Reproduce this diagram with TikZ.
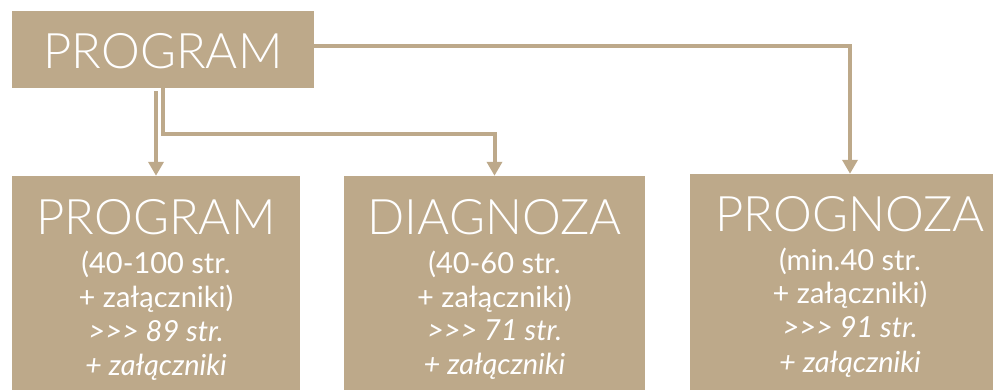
\documentclass[tikz,border=0pt]{standalone}
\usepackage{fontspec}
\setmainfont{Lato Light}[ItalicFont={Lato Light Italic}]
\newfontfamily\latoreg{Lato}
\usetikzlibrary{arrows.meta}
\definecolor{tanbox}{RGB}{189,169,138}
\begin{document}
\begin{tikzpicture}[x=1pt,y=-1pt,
  box/.style={fill=tanbox,draw=none,rectangle,inner sep=0pt},
  conn/.style={draw=tanbox,line width=4pt,line join=miter},
  arr/.style={conn,-{Triangle[width=15pt,length=14pt]}},
  title/.style={text=white,anchor=base,font=\fontsize{49}{60}\selectfont,inner sep=0pt},
  info/.style={text=white,anchor=base,font=\latoreg\fontsize{29}{34}\selectfont,inner sep=0pt},
  infoit/.style={text=white,anchor=base,font=\latoreg\fontsize{29}{34}\selectfont\itshape,inner sep=0pt}]
\useasboundingbox (0,0) rectangle (993,390);
\clip (0,0) rectangle (993,390);
% boxes
\node[box,minimum width=302pt,minimum height=77pt] (top) at (163,49.5) {};
\node[box,minimum width=288pt,minimum height=214pt] (b1) at (156,283) {};
\node[box,minimum width=301pt,minimum height=214pt] (b2) at (494.5,283) {};
\node[box,minimum width=320pt,minimum height=216pt] (b3) at (850,282) {};
% connectors
\draw[arr,shorten <=3pt] (b1.north |- top.south) -- (b1.north);
\draw[arr] (top.south) -- ++(0,46) coordinate (bend) -| (b2.north);
\draw[arr] ([yshift=3.5pt]top.east) -| (b3.north);
% texts
\node[title] (ttop) at (163,69) {PROGRAM};
\node[title] (t1) at (156,234) {PROGRAM};
\node[info] (t1a) at (156,273) {(40-100 str.};
\node[info] (t1b) at (156,307) {+ załączniki)};
\node[infoit] (t1c) at (156,341) {>{}>{}> 89 str.};
\node[infoit] (t1d) at (156,375) {+ załączniki};
\node[title] (t2) at (494.5,234) {DIAGNOZA};
\node[info] (t2a) at (494.5,273) {(40-60 str.};
\node[info] (t2b) at (494.5,307) {+ załączniki)};
\node[infoit] (t2c) at (494.5,340) {>{}>{}> 71 str.};
\node[infoit] (t2d) at (494.5,374) {+ załączniki};
\node[title] (t3) at (850,231) {PROGNOZA};
\node[info] (t3a) at (850,270) {(min.40 str.};
\node[info] (t3b) at (850,303) {+ załączniki)};
\node[infoit] (t3c) at (850,337) {>{}>{}> 91 str.};
\node[infoit] (t3d) at (850,372) {+ załączniki};
\end{tikzpicture}
\end{document}
